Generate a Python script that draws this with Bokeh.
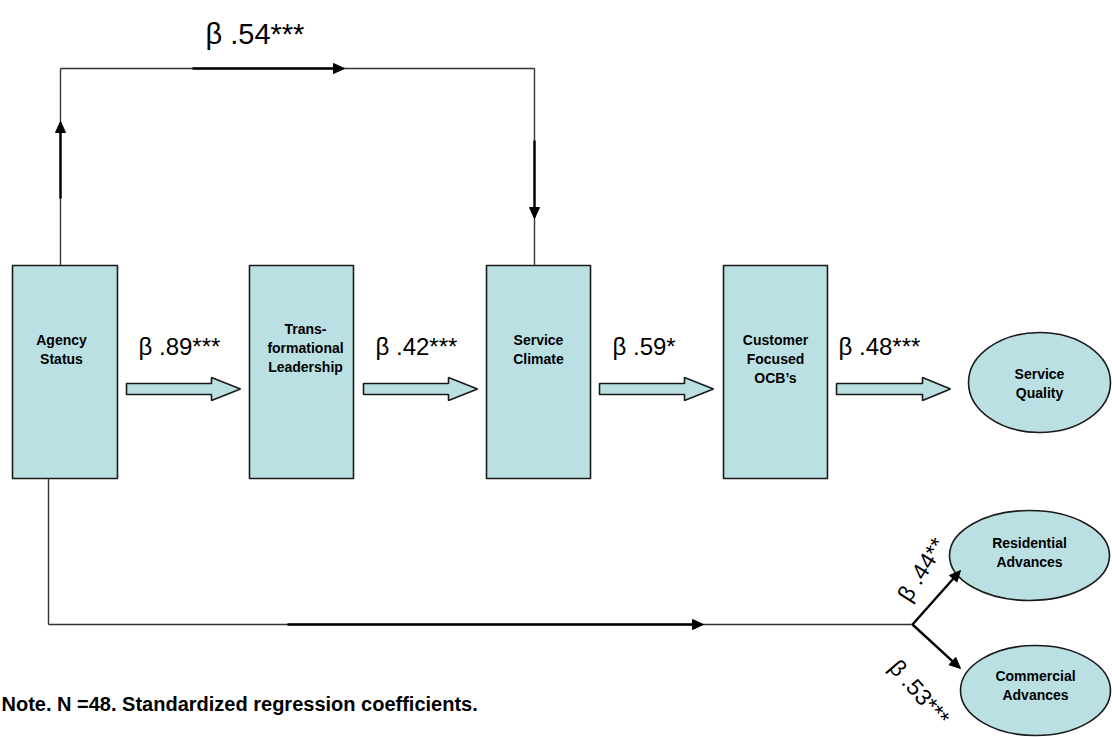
import math
from bokeh.plotting import figure
from bokeh.models import Range1d
from bokeh.core.properties import value
from bokeh.embed import file_html
from bokeh.resources import INLINE

# ---------------- data ----------------
box_labels = [["Agency", "Status"],
              ["Trans-", "formational", "Leadership"],
              ["Service", "Climate"],
              ["Customer", "Focused", "OCB\u2019s"]]
oval_labels = [["Service", "Quality"],
               ["Residential", "Advances"],
               ["Commercial", "Advances"]]
chain_coefs = [".89", ".42", ".59", ".48"]
chain_stars = ["***", "***", "*", "***"]
direct_coef = ".54"
direct_stars = "***"
branch_coefs = [".44", ".53"]
branch_stars = ["**", "***"]
note_text = "Note. N =48. Standardized regression coefficients."

# ---------------- layout (reference pixel coordinates) ----------------
REF_W, REF_H = 1112, 737


def Y(v):
    return REF_H - v


FILL = "#BBE0E3"
EDGE = "#1a1a1a"
LBL_FONT = value("'Liberation Sans', Arial, sans-serif")
COEF_FONT = value("'Liberation Sans', Arial, sans-serif")

p = figure(width=REF_W, height=REF_H, x_range=Range1d(0, REF_W),
           y_range=Range1d(0, REF_H), output_backend="svg",
           toolbar_location=None, tools="", min_border=0)
p.axis.visible = False
p.grid.visible = False
p.outline_line_color = None
p.background_fill_color = "white"
p.border_fill_color = "white"

# boxes
box_left = [12, 249, 486, 723]
box_right = [117, 353, 590, 827]
p.quad(left=box_left, right=box_right, top=[Y(265)] * 4, bottom=[Y(478)] * 4,
       fill_color=FILL, line_color=EDGE, line_width=1.6)

# ovals
ov_x = [1039, 1029, 1035]
ov_y = [Y(382), Y(555), Y(690)]
p.ellipse(x=ov_x, y=ov_y, width=[142, 160, 150], height=[100, 90, 90],
          fill_color=FILL, line_color=EDGE, line_width=1.6)

# block arrows between nodes
yc = 388.5
block = [(126, 211, 240), (363, 448, 477), (599, 684, 713), (836, 922, 950)]
bx, by = [], []
for x0, xb, xt in block:
    bx.append([x0, xb, xb, xt, xb, xb, x0])
    by.append([Y(yc - 5.5), Y(yc - 5.5), Y(yc - 11.5), Y(yc), Y(yc + 11.5), Y(yc + 5.5), Y(yc + 5.5)])
p.patches(bx, by, fill_color=FILL, line_color=EDGE, line_width=1.6)

# thin connector lines
thin = [((60, 265), (60, 68)), ((60, 68), (534, 68)), ((534, 68), (534, 265)),
        ((48, 478), (48, 624)), ((48, 624), (912, 624))]
p.multi_line([[a[0], b[0]] for a, b in thin], [[Y(a[1]), Y(b[1])] for a, b in thin],
             line_color="#333333", line_width=1.4)

# thick segments ending with arrowheads
thick = [((60, 198), (60, 121)), ((192, 68), (344, 68)), ((534, 140), (534, 218)),
         ((287, 624), (703, 624)), ((912, 624), (960, 570)), ((912, 624), (960, 668))]
lx, ly, hx, hy = [], [], [], []
for (x1, y1), (x2, y2) in thick:
    dx, dy = x2 - x1, y2 - y1
    L = math.hypot(dx, dy)
    ux, uy = dx / L, dy / L
    bxp, byp = x2 - 11 * ux, y2 - 11 * uy
    lx.append([x1, bxp])
    ly.append([Y(y1), Y(byp)])
    nx, ny = -uy, ux
    hx.append([x2, bxp + 5 * nx, bxp - 5 * nx])
    hy.append([Y(y2), Y(byp + 5 * ny), Y(byp - 5 * ny)])
p.multi_line(lx, ly, line_color="black", line_width=2.4)
p.patches(hx, hy, fill_color="black", line_color="black", line_width=1)

# node labels
lab_x, lab_y, lab_t = [], [], []
node_cx = [61, 305, 538, 775]
node_top = [339, 328, 339, 339]
for cx, ty, lines in zip(node_cx, node_top, box_labels):
    for i, t in enumerate(lines):
        lab_x.append(cx)
        lab_y.append(Y(ty + 19 * i))
        lab_t.append(t)
oval_top = [373, 542, 675]
for cx, ty, lines in zip(ov_x, oval_top, oval_labels):
    for i, t in enumerate(lines):
        lab_x.append(cx)
        lab_y.append(Y(ty + 19 * i))
        lab_t.append(t)
p.text(x=lab_x, y=lab_y, text=lab_t, text_font=LBL_FONT, text_font_style="bold",
       text_font_size="14px", text_align="center", text_baseline="middle",
       text_color="black")

# coefficient labels along the chain
chain_x = [138, 375, 612, 838]
p.text(x=chain_x, y=[Y(346)] * 4,
       text=["\u03b2 " + c + s for c, s in zip(chain_coefs, chain_stars)],
       text_font=COEF_FONT, text_font_size="24px", text_align="left",
       text_baseline="middle", text_color="black")

# direct path coefficient
p.text(x=[205], y=[Y(33)], text=["\u03b2 " + direct_coef + direct_stars],
       text_font=COEF_FONT, text_font_size="29px", text_align="left",
       text_baseline="middle", text_color="black")

# branch coefficients (rotated)
p.text(x=[921, 919], y=[Y(569), Y(692)],
       text=["\u03b2 " + c + s for c, s in zip(branch_coefs, branch_stars)],
       angle=[math.radians(58), math.radians(-49)],
       text_font=COEF_FONT, text_font_size="23px", text_align="center",
       text_baseline="middle", text_color="black")

# note
p.text(x=[1], y=[Y(703)], text=[note_text], text_font=LBL_FONT,
       text_font_style="bold", text_font_size="20px", text_align="left",
       text_baseline="middle", text_color="black")

open("out.html", "w").write(file_html(p, INLINE))
